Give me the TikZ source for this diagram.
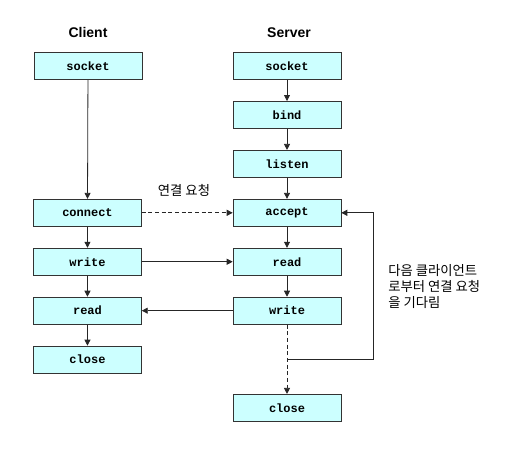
\documentclass[tikz,border=0pt]{standalone}
\usepackage{fontspec}
\setmainfont{Liberation Sans}
\setsansfont{Liberation Sans}
\setmonofont{Liberation Mono}
\newfontfamily\krfont{Noto Sans CJK KR}
\usetikzlibrary{arrows.meta,positioning}
\definecolor{boxfill}{HTML}{CCFFFF}
\definecolor{boxline}{HTML}{333333}

\begin{document}
\begin{tikzpicture}[x=0.75pt, y=-0.75pt, node distance=15.8pt and 68.25pt,
  call/.style={draw=boxline, fill=boxfill, minimum width=81pt, minimum height=20.5pt, inner sep=2pt, font=\ttfamily\bfseries\fontsize{9}{11}\selectfont},
  title/.style={font=\sffamily\bfseries\fontsize{10.5}{12}\selectfont},
  note/.style={font=\krfont\fontsize{10}{12}\selectfont, align=left, inner sep=0pt},
  link/.style={draw=black!85, line width=0.6pt, ->},
  >={Triangle[length=4.5pt, width=4.5pt]}]
\useasboundingbox (0,0) rectangle (513,457);
% server side
\node[title] (srvtitle) at (289,33) {Server};
\node[call] (ssocket) at (287,66) {socket};
\node[call, below=of ssocket] (sbind) {bind};
\node[call, below=of sbind] (slisten) {listen};
\node[call, below=of slisten] (saccept) {accept};
\node[call, below=of saccept] (sread) {read};
\node[call, below=of sread] (swrite) {write};
\node[call, below=52pt of swrite] (sclose) {close};
% client side
\node[title] (clititle) at (88,32) {Client};
\node[call] (csocket) at (88,66) {socket};
\node[call, left=of saccept] (cconnect) {connect};
\node[call, below=of cconnect] (cwrite) {write};
\node[call, below=of cwrite] (cread) {read};
\node[call, below=of cread] (cclose) {close};
% labels
\node[note] (reqlabel) at (184,190) {연결 요청};
\node[note, anchor=west] (waitlabel) at (388,287) {다음 클라이언트\\로부터 연결 요청\\을 기다림};
\coordinate (turn) at (287,359);
\coordinate (back) at (373,359);
% flow
\draw[link] (ssocket) -- (sbind);
\draw[link] (sbind) -- (slisten);
\draw[link] (slisten) -- (saccept);
\draw[link] (saccept) -- (sread);
\draw[link] (sread) -- (swrite);
\draw[link, dashed, dash pattern=on 3pt off 2pt] (swrite) -- (sclose);
\draw[link] (turn) -- (back) |- (saccept);
\draw[link] (csocket) -- (cconnect);
\draw[link] (cconnect) -- (cwrite);
\draw[link] (cwrite) -- (cread);
\draw[link] (cread) -- (cclose);
\draw[link, dashed, dash pattern=on 3pt off 2pt] (cconnect) -- (saccept);
\draw[link] (cwrite) -- (sread);
\draw[link] (swrite) -- (cread);
\end{tikzpicture}
\end{document}
